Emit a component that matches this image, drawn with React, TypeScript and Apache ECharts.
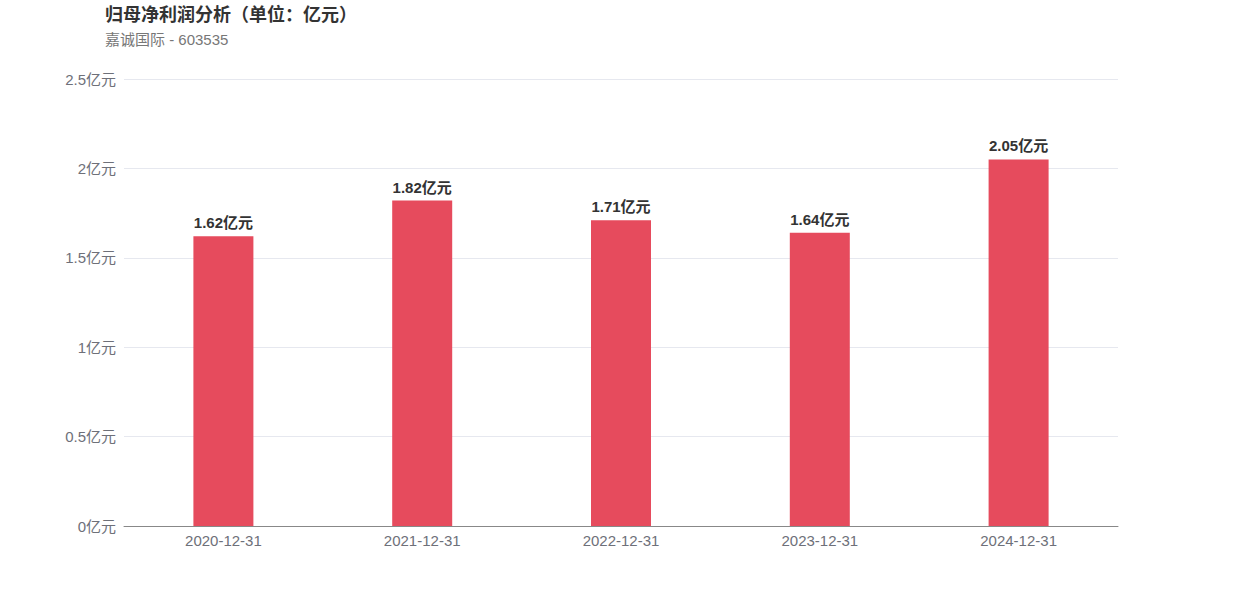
import React, { useEffect, useRef } from "react";
import * as echarts from "echarts";

const categories = ["2020-12-31", "2021-12-31", "2022-12-31", "2023-12-31", "2024-12-31"];
const profitValues = [1.62, 1.82, 1.71, 1.64, 2.05];
const titleText = "归母净利润分析（单位：亿元）";
const subtitleText = "嘉诚国际 - 603535";
const FONT = "Liberation Sans, Noto Sans CJK SC, sans-serif";

export default function App() {
  const ref = useRef<HTMLDivElement>(null);
  useEffect(() => {
    document.body.style.margin = "0";
    const chart = echarts.init(ref.current!, undefined, { renderer: "svg" });
    chart.setOption({
      animation: false,
      backgroundColor: "#ffffff",
      title: {
        text: titleText,
        subtext: subtitleText,
        left: 100,
        top: 1,
        itemGap: 8,
        textStyle: { fontSize: 18, fontWeight: "bold", color: "#333", fontFamily: FONT },
        subtextStyle: { fontSize: 15, color: "#777", fontFamily: FONT },
      },
      grid: { left: 124, right: 124, top: 79, bottom: 70, containLabel: false },
      xAxis: {
        type: "category",
        data: categories,
        axisLine: { lineStyle: { color: "#888", width: 1 } },
        axisTick: { show: false },
        axisLabel: { color: "#6E7079", fontSize: 15, margin: 7, fontFamily: FONT },
      },
      yAxis: {
        type: "value",
        min: 0,
        max: 2.5,
        interval: 0.5,
        axisLine: { show: false },
        axisTick: { show: false },
        splitLine: { lineStyle: { color: "#E6E8EF" } },
        axisLabel: {
          color: "#6E7079",
          fontSize: 15,
          margin: 8,
          fontFamily: FONT,
          formatter: (v: number) => `${v}亿元`,
        },
      },
      series: [
        {
          type: "bar",
          data: profitValues,
          barWidth: 60,
          itemStyle: { color: "#E64B5D" },
          label: {
            show: true,
            position: "top",
            distance: 6,
            color: "#333",
            fontSize: 15,
            fontWeight: "bold",
            fontFamily: FONT,
            formatter: (p: any) => `${p.value}亿元`,
          },
        },
      ],
    });
    return () => chart.dispose();
  }, []);
  return <div ref={ref} style={{ position: "absolute", left: 0, top: 0, width: 1242, height: 596 }} />;
}
